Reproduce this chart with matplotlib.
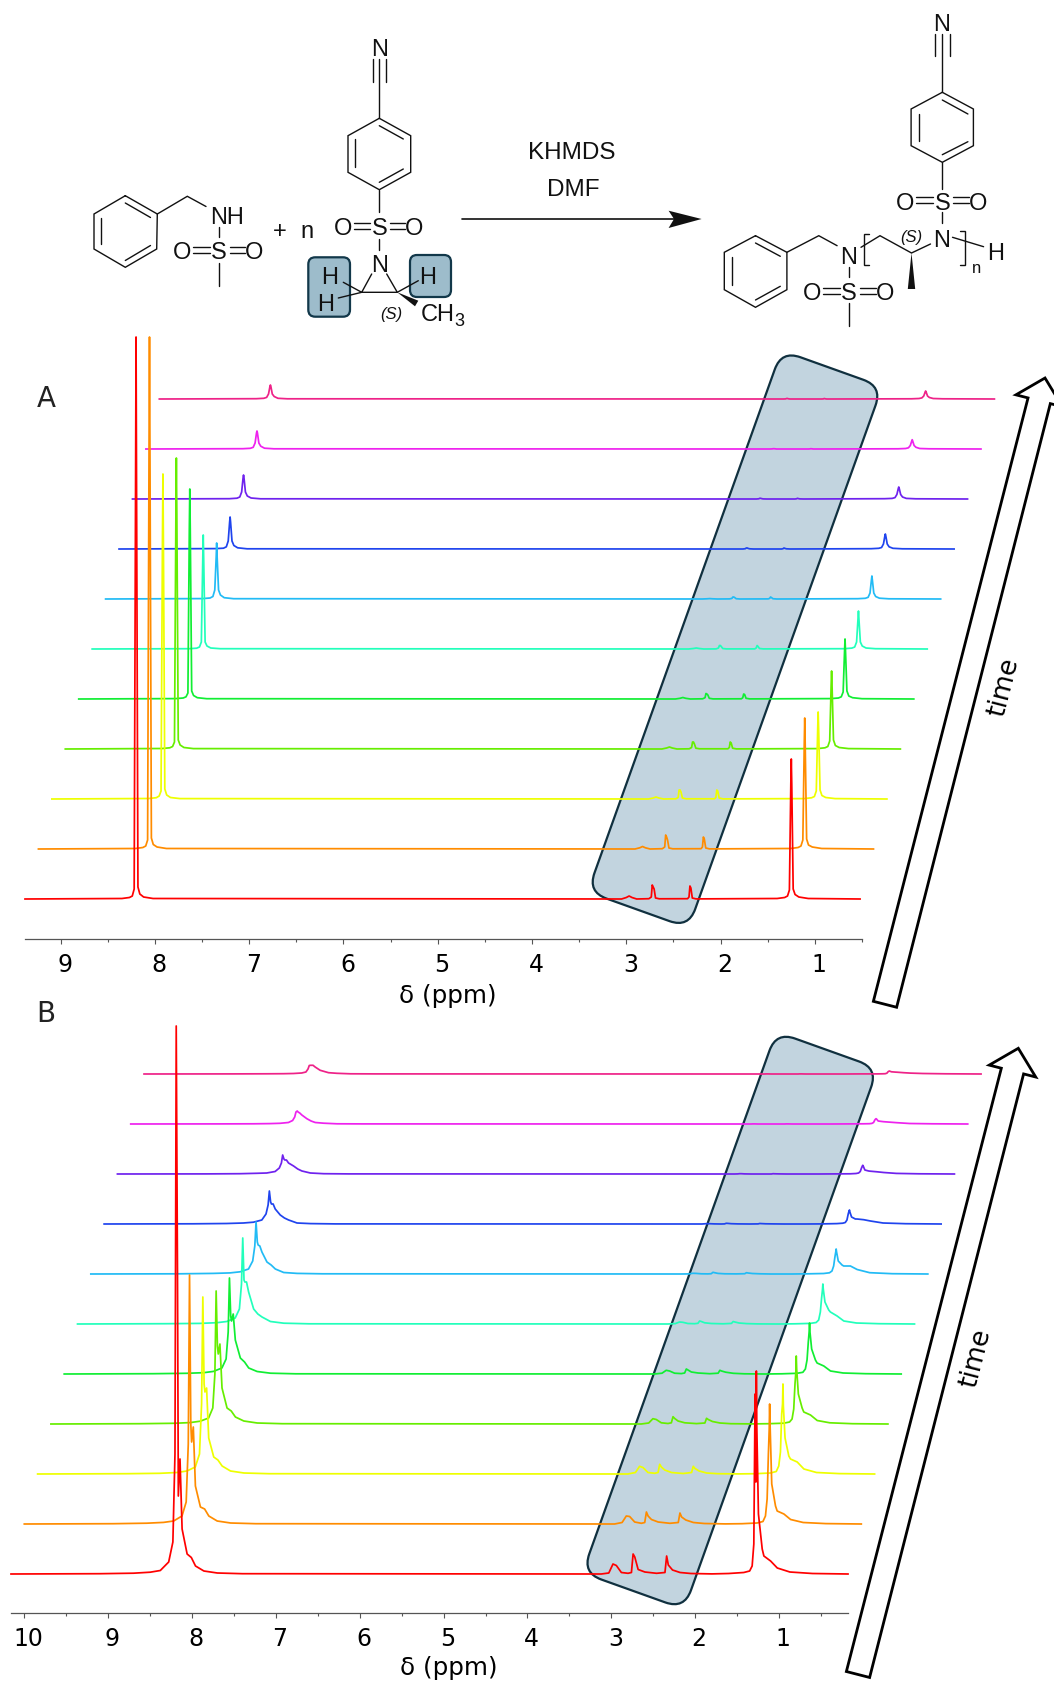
import matplotlib
matplotlib.use('Agg')
import matplotlib.pyplot as plt
from matplotlib.patches import FancyBboxPatch, Polygon
from matplotlib.transforms import Affine2D, ScaledTranslation
import numpy as np

W, H = 1054, 1683
STRUCT_FONT = 'Liberation Sans'

colors = ['#ff0000', '#ff8c00', '#eeff00', '#66ee00', '#11ee33', '#22ffbb',
          '#22bbf5', '#1f44ee', '#6f22ee', '#ee22ee', '#ee2288']

# panel A, heights, one row per spectrum (first = red)
a_arom_ppm = [8.35, 8.27, 8.24, 8.22, 8.205, 8.20, 8.195, 8.18, 8.16, 8.12, 8.02]
a_arom = [
    [.5, 1.5, 3, 10, 420, 562, 420, 12, 5, 2, .5],
    [.5, 1.5, 3, 9, 400, 512, 400, 11, 4.5, 2, .5],
    [.5, 1.3, 3, 8, 260, 325, 260, 10, 4, 1.5, .4],
    [.5, 1.2, 2.5, 7, 235, 291, 235, 9, 4, 1.5, .4],
    [.4, 1, 2.2, 6, 170, 210, 170, 8, 3.5, 1.3, .3],
    [.3, .8, 2, 7, 90, 114, 90, 7, 3, 1, .3],
    [.4, 1, 2.5, 9, 42, 56, 42, 9, 4, 1.3, .3],
    [.4, .8, 2.2, 8, 27, 32, 27, 8, 3.5, 1.2, .2],
    [.3, .8, 2, 7, 21, 24, 21, 7, 3, 1, .2],
    [.3, .7, 1.7, 6, 16, 18, 16, 6, 2.8, .8, .2],
    [.3, .7, 1.6, 5, 12.5, 14, 12.5, 5, 2.5, .7, .2],
]
a_mono_ppm = [3.05, 3.00, 2.97, 2.94, 2.89, 2.76, 2.735, 2.725, 2.715, 2.705, 2.69, 2.65,
              2.35, 2.335, 2.325, 2.315, 2.30, 2.26]
a_mono = [
    [0, 1.5, 3, 1.5, 0, .3, 2, 14, 12, 10, 1, .2, .3, 2, 13, 11, 1, .1],
    [0, 1.2, 2.5, 1.2, 0, .3, 2, 14, 12, 9, 1, .2, .3, 2, 12, 10, 1, .1],
    [0, 1, 2, 1, 0, .2, 1.5, 9, 9, 7, 1, .2, .2, 1.5, 9, 8, 1, .1],
    [0, 1, 2, 1, 0, .2, 1.5, 7, 7, 5, .8, .2, .2, 1.5, 7, 6, .8, .1],
    [0, .7, 1.5, .7, 0, .2, 1.3, 5.5, 5, 4, .7, .1, .2, 1.2, 5, 4.5, .7, .1],
    [0, .5, 1, .5, 0, .1, 1, 3.5, 3.5, 2.5, .5, .1, .1, 1, 3.5, 2.5, .5, .1],
    [0, .2, .4, .2, 0, .1, .6, 2, 2, 1.4, .3, 0, .1, .6, 2, 1.4, .3, 0],
    [0, 0, 0, 0, 0, 0, .3, 1, 1, .6, .2, 0, 0, .3, 1, .6, .2, 0],
    [0, 0, 0, 0, 0, 0, .2, .7, .7, .4, .1, 0, 0, .2, .7, .4, .1, 0],
    [0, 0, 0, 0, 0, 0, .1, .3, .3, .2, 0, 0, 0, .1, .3, .2, 0, 0],
    [0, 0, 0, 0, 0, 0, .1, .5, .5, .2, 0, 0, 0, .1, .5, .2, 0, 0],
]
a_me_ppm = [1.40, 1.32, 1.29, 1.27, 1.255, 1.25, 1.245, 1.23, 1.21, 1.17, 1.07]
a_me = [
    [.5, 1.5, 3, 9, 115, 140, 115, 10, 4.5, 2, .5],
    [.5, 1.5, 3, 9, 105, 131, 105, 10, 4, 2, .5],
    [.4, 1.2, 2.5, 8, 70, 87, 70, 9, 3.5, 1.5, .4],
    [.4, 1.2, 2.5, 8, 63, 78, 63, 9, 3.5, 1.5, .4],
    [.4, 1, 2.2, 7, 48, 60, 48, 8, 3, 1.3, .3],
    [.3, .9, 2, 7, 30, 38, 30, 7, 3, 1, .3],
    [.3, .7, 1.7, 6, 19, 23, 19, 6, 2.5, .8, .2],
    [.3, .7, 1.5, 5, 13, 15, 13, 5, 2.2, .7, .2],
    [.3, .6, 1.4, 4.5, 10.5, 12, 10.5, 4.5, 2, .6, .2],
    [.2, .5, 1.2, 3.5, 8, 9.3, 8, 3.5, 1.7, .5, .2],
    [.2, .5, 1.1, 3, 7, 8, 7, 3, 1.5, .5, .2],
]

# panel B
b_arom_ppm = [9.1, 8.7, 8.5, 8.38, 8.28, 8.23, 8.205, 8.19, 8.175, 8.165, 8.145, 8.12,
              8.06, 8.01, 7.96, 7.86, 7.7, 7.4]
b_arom = [
    [.3, .8, 1.8, 3.5, 12, 32, 120, 548, 300, 78, 115, 45, 20, 16.5, 8, 3, 1, .3],
    [.3, .8, 1.6, 3, 8, 22, 80, 249, 100, 82, 97, 38, 17, 15, 8, 3, 1, .3],
    [.3, .7, 1.5, 3, 7, 20, 70, 177, 90, 82, 86, 36, 17, 14, 8, 3, 1, .3],
    [.3, .7, 1.4, 2.8, 6, 16, 50, 133, 78, 70, 80, 36, 16, 13, 7, 3, 1, .3],
    [.3, .7, 1.3, 2.6, 6, 15, 42, 96, 58, 53, 60, 34, 16, 12, 6, 2.5, .8, .2],
    [.3, .6, 1.3, 2.5, 6, 15, 40, 86, 44, 42, 42, 32, 15, 10, 7, 2.5, .8, .2],
    [.2, .6, 1.1, 2.2, 5, 13, 28, 52, 32, 29, 28, 22, 12, 9, 5, 1.5, .6, .2],
    [.2, .5, 1, 1.8, 4, 10, 19, 33, 22, 20, 20, 15, 9, 6, 4, 1, .4, .1],
    [.1, .3, .7, 1, 2.5, 6, 11, 19, 15, 14, 14, 11, 8, 5, 3, 1, .3, .1],
    [.1, .2, .4, .7, 1.5, 3.5, 7, 12, 13, 12, 11, 9, 5.3, 3, 1.5, .8, .2, .1],
    [.1, .2, .3, .5, 1, 2, 5, 8.5, 8.7, 8.7, 8.7, 7, 3.7, 2.5, 1.3, .7, .2, .1],
]
b_mono_ppm = [3.12, 3.03, 2.98, 2.94, 2.88, 2.80, 2.76, 2.74, 2.72, 2.68, 2.60, 2.46,
              2.36, 2.34, 2.32, 2.27, 2.18, 2.05, 1.8]
b_mono = [
    [0, 1, 10, 8.5, 1.5, .7, 1.5, 20, 17, 4.5, 2, .7, 1.5, 18, 9, 4, 1.5, .5, .1],
    [0, 1.5, 8, 7.5, 2, .7, 1.5, 12, 8, 4.5, 2, .7, 1.5, 11, 7, 4, 1.5, .5, .1],
    [0, 1.5, 7.7, 6.5, 1.5, .7, 1.5, 9.7, 7, 4, 1.5, .5, 1.5, 7.7, 5.5, 3, 1, .3, .1],
    [0, 1, 5.3, 4.5, 1.2, .5, 1.2, 7.3, 5.5, 3, 1.2, .4, 1, 5.7, 4.5, 2.5, 1, .3, .1],
    [0, .8, 3.7, 3, .8, .4, 1, 5, 4, 2, 1, .3, .8, 3.7, 3, 1.8, .7, .2, 0],
    [0, .4, 2, 1.7, .5, .3, .7, 3, 2.5, 1.2, .5, .2, .6, 2.5, 2, 1, .4, .1, 0],
    [0, .1, .7, .6, .2, .1, .3, 1.7, 1.3, .6, .2, .1, .3, 1.3, 1, .5, .2, 0, 0],
    [0, 0, .3, .3, .1, 0, .1, .7, .6, .3, .1, 0, .1, .5, .4, .2, .1, 0, 0],
    [0, 0, 0, 0, 0, 0, .1, .3, .3, .1, 0, 0, 0, .3, .2, .1, 0, 0, 0],
    [0, 0, 0, 0, 0, 0, 0, .1, .1, 0, 0, 0, 0, .1, .1, 0, 0, 0, 0],
    [0, 0, 0, 0, 0, 0, 0, .1, .1, 0, 0, 0, 0, .1, .1, 0, 0, 0, 0],
]
b_me_ppm = [1.6, 1.42, 1.35, 1.32, 1.30, 1.285, 1.275, 1.27, 1.265, 1.245, 1.2, 1.18,
            1.10, 1.02, .87, .6]
b_me = [
    [.5, 1.5, 3, 8, 30, 180, 92, 203, 150, 60, 25, 18, 13, 6, 2, .5],
    [.3, 1, 2.5, 8, 25, 70, 95, 120, 100, 40, 18, 13, 10, 4.5, 1.5, .4],
    [.3, 1, 2.5, 8, 22, 60, 70, 90, 68, 36, 18, 15, 12, 5, 1.5, .4],
    [.3, .8, 2, 5, 15, 40, 52, 68, 55, 30, 16, 12, 9, 3.5, 1.2, .3],
    [.2, .7, 1.7, 5, 14, 32, 42, 51, 42, 25, 14, 11, 8, 3, 1, .3],
    [.2, .6, 1.5, 4, 12, 26, 34, 40, 35, 22, 14, 12, 8, 3, 1, .3],
    [.2, .5, 1.2, 3, 8, 17, 22, 25, 22, 13, 9, 8, 8, 4.5, 1.3, .3],
    [.1, .4, .8, 1.5, 4, 10, 13, 14, 12, 7, 5, 5, 4.3, 3, 1, .3],
    [.1, .2, .5, 1, 2.5, 6, 8, 8.7, 8, 4, 3, 2.8, 2.2, 1.5, .6, .2],
    [.1, .2, .3, .6, 1.5, 4, 5, 5.3, 5, 3, 2.5, 2.3, 1.8, 1.3, .5, .2],
    [.1, .1, .2, .3, .8, 2.3, 2.8, 3, 2.8, 2.2, 1.9, 1.8, 1.3, .9, .5, .2],
]

fig = plt.figure(figsize=(W / 100, H / 100), dpi=100)

# whole-figure layer in pixels, for the scheme and the annotations
bg = fig.add_axes([0, 0, 1, 1], zorder=0)
bg.set_xlim(0, W)
bg.set_ylim(H, 0)
bg.axis('off')


def line(*pts, lw=1.0):
    xs, ys = zip(*pts)
    bg.plot(xs, ys, color='#111111', lw=lw, solid_capstyle='round', solid_joinstyle='miter')


def label(x, y, s, size=17, style='normal', ha='center'):
    bg.text(x, y, s, fontsize=size, style=style, family=STRUCT_FONT, color='#111111',
            ha=ha, va='center_baseline', zorder=5)


def ring(verts, inner):
    line(*verts, verts[0])
    for a, b in inner:
        line(a, b)


def sulfonyl(x, y, left, right, gap=5.5):
    label(x, y, 'S')
    label(left, y, 'O')
    label(right, y, 'O')
    for dy in (-gap / 2 - .3, gap / 2 + .3):
        line((left + 11, y + dy), (x - 9, y + dy))
        line((x + 11, y + dy), (right - 9, y + dy))


def highlight(x0, y0, x1, y1):
    bg.add_patch(FancyBboxPatch((x0, y0), x1 - x0, y1 - y0,
                                boxstyle='round,pad=0,rounding_size=7',
                                fc='#9dbccb', ec='#12384a', lw=1.6, zorder=1))


def slanted_box(cx, cy, w, h):
    tr = Affine2D().rotate_deg_around(cx, cy, 19.7) + bg.transData
    bg.add_patch(FancyBboxPatch((cx - w / 2, cy - h / 2), w, h,
                                boxstyle='round,pad=0,rounding_size=20',
                                fc='#c2d4df', ec='#10303f', lw=1.6, transform=tr, zorder=1))


def time_arrow(tail, tip, text_xy):
    tail, tip = np.array(tail), np.array(tip)
    u = (tip - tail) / np.hypot(*(tip - tail))
    n = np.array([-u[1], u[0]])
    neck = tip - 23.5 * u
    pts = [tail + 12 * n, neck + 11.5 * n, neck + 24 * n, tip,
           neck - 24 * n, neck - 11.5 * n, tail - 12 * n]
    bg.add_patch(Polygon(pts, closed=True, fc='white', ec='black', lw=2.0, joinstyle='miter'))
    bg.text(text_xy[0], text_xy[1], 'time', fontsize=19, rotation=75.5, ha='center', va='center')


# reactant 1
ring([(125.3, 196.7), (157.3, 215), (156.7, 250), (125.3, 268.3), (94, 250), (94, 215)],
     [((125.3, 204), (150.5, 218.5)), ((100.5, 218.5), (100.5, 245)), ((125.3, 261.5), (150.5, 246.5))])
line((157.3, 215), (187.3, 197.3), (206, 207.5))
label(227.5, 215, 'NH')
line((218.7, 228), (218.7, 238))
sulfonyl(218.7, 250.7, 182.3, 254)
line((218.7, 263.5), (218.7, 286.7))
label(280, 229.3, '+')
label(306.7, 229.3, 'n')

# aziridine monomer
highlight(308.3, 258.3, 350, 317.7)
highlight(410, 256, 451, 298)
label(379.3, 47.3, 'N')
line((379.3, 60), (379.3, 119.3))
line((372.7, 60), (372.7, 83.3))
line((386, 60), (386, 83.3))
ring([(379.3, 119.3), (410.7, 136.7), (410.7, 173.3), (379.3, 190.7), (348, 173.3), (348, 136.7)],
     [((379.3, 126.7), (403.3, 140)), ((355, 140), (355, 168.3)), ((379.3, 183.3), (403.3, 170))])
line((379.3, 190.7), (379.3, 213))
sulfonyl(379.3, 226.7, 343.3, 414.3)
line((379.3, 240), (379.3, 250.7))
label(379.3, 263.3, 'N')
line((371.7, 275), (361.7, 293.3), (397.3, 293.3), (386.7, 275))
line((361.7, 293.3), (343.3, 283.3))
line((361.7, 293.3), (338.3, 299))
line((397.3, 293.3), (418.3, 281.7))
bg.add_patch(Polygon([(397.3, 293.3), (418.3, 301.7), (415, 307.3)], fc='#111111', ec='none', zorder=3))
label(330, 276, 'H')
label(326, 302.7, 'H')
label(427.7, 276, 'H')
label(420.5, 312.7, 'CH', ha='left')
label(459, 319, '3', size=13)
label(391, 313.3, '(S)', size=12, style='italic')

# reaction arrow
line((461.7, 220), (674, 220), lw=1.2)
bg.add_patch(Polygon([(701.6, 220), (668.6, 211.7), (674, 220), (668.6, 229)], fc='#111111', ec='none'))
label(571.5, 150.7, 'KHMDS', size=17.5)
label(573.4, 188, 'DMF', size=17.5)

# polymer product
label(941.5, 22.7, 'N')
line((942.3, 35), (942.3, 93.3))
line((934.6, 35), (934.6, 56.7))
line((949.6, 35), (949.6, 56.7))
ring([(942.3, 93.3), (973.4, 110), (973.4, 146.7), (942.3, 163.3), (911.1, 146.7), (911.1, 110)],
     [((942.3, 101), (967.9, 115)), ((918.5, 115), (918.5, 141.7)), ((942.3, 155.7), (967.9, 142.7))])
line((942.3, 163.3), (942.3, 190))
sulfonyl(942.3, 201, 904.9, 978.1)
line((942.3, 213.3), (942.3, 224))
label(941.5, 238.3, 'N')
ring([(755.5, 236.7), (786.9, 253.3), (786.9, 290.7), (755.5, 308.3), (724.3, 290.7), (724.3, 253.3)],
     [((755.5, 244), (780.3, 257.3)), ((731.6, 258.3), (731.6, 286)), ((755.5, 301), (780.3, 287.3))])
line((786.9, 253.3), (818.8, 236.7), (837.1, 246.7))
label(848.1, 256, 'N')
line((861, 248.3), (880, 236.7), (911.5, 254), (930.5, 245))
line((952.5, 238.3), (983.6, 247.7))
line((869, 235), (863.5, 235), (863.5, 265.7), (869, 265.7))
line((960.2, 232.3), (965.4, 232.3), (965.4, 265.7), (960.2, 265.7))
label(977, 267, 'n', size=12)
label(995.4, 251.7, 'H')
label(911.1, 236, '(S)', size=12, style='italic')
bg.add_patch(Polygon([(911.5, 254), (907.8, 290), (915.2, 290)], fc='#111111', ec='none'))
line((849.2, 268.3), (849.2, 278.3))
sulfonyl(849.2, 291.7, 812.2, 884.7)
line((849.2, 304), (849.2, 326.7))

slanted_box(735, 640.2, 107, 575)
slanted_box(730.2, 1321.5, 108, 574.6)
time_arrow((885, 1005.3), (1045, 379), (1004, 687))
time_arrow((858, 1675.5), (1018.3, 1049.3), (976, 1358))

bg.text(46, 399, 'A', fontsize=20, ha='center', va='center', color='#222222')
bg.text(46, 1014, 'B', fontsize=20, ha='center', va='center', color='#222222')


def panel(box, xlim, base_y, ticks, minor, arom_ppm, arom, mono_ppm, mono, me_ppm, me,
          shift, label_x, label_top):
    left, right, top, bottom = box
    ax = fig.add_axes([left / W, 1 - bottom / H, (right - left) / W, (bottom - top) / H], zorder=2)
    ax.patch.set_visible(False)
    ax.set_xlim(*xlim)
    ax.set_ylim(base_y - bottom, base_y - top)
    ppm = np.array([xlim[0]] + arom_ppm + mono_ppm + me_ppm + [xlim[1]])
    # pink at the back, red in front
    for i in range(len(colors) - 1, -1, -1):
        y = np.array([0] + arom[i] + mono[i] + me[i] + [0], dtype=float)
        ax.plot(ppm - i * shift, y + i * 50, color=colors[i], lw=1.25, clip_on=False,
                solid_joinstyle='round')
    for s in ('top', 'left', 'right'):
        ax.spines[s].set_visible(False)
    ax.spines['bottom'].set_color('#555555')
    ax.spines['bottom'].set_linewidth(0.9)
    ax.set_yticks([])
    ax.set_xticks(ticks)
    ax.set_xticks(minor, minor=True)
    ax.tick_params(axis='x', which='major', length=3.6, width=0.8, color='#555555',
                   labelsize=17, pad=5.5)
    ax.tick_params(axis='x', which='minor', length=2, width=0.8, color='#555555')
    offset = ScaledTranslation(4 / 100, 0, fig.dpi_scale_trans)
    for t in ax.get_xticklabels():
        t.set_transform(t.get_transform() + offset)
    ax.set_xlabel('δ (ppm)', fontsize=17.7, va='top')
    ax.xaxis.set_label_coords((label_x - left) / (right - left), -(label_top - bottom) / (bottom - top))
    return ax


panel((25, 862, 320, 940), (9.378, 0.5206), 900,
      [9, 8, 7, 6, 5, 4, 3, 2, 1], [8.5, 7.5, 6.5, 5.5, 4.5, 3.5, 2.5, 1.5, 0.5 + 0.0],
      a_arom_ppm, a_arom, a_mono_ppm, a_mono, a_me_ppm, a_me, 0.1425, 448, 984)
panel((11, 848, 1000, 1614), (10.161, 0.1766), 1575,
      [10, 9, 8, 7, 6, 5, 4, 3, 2, 1], [9.5, 8.5, 7.5, 6.5, 5.5, 4.5, 3.5, 2.5, 1.5, 0.5],
      b_arom_ppm, b_arom, b_mono_ppm, b_mono, b_me_ppm, b_me, 0.1587, 448.6, 1656)

fig.savefig('out.png', dpi=100)
